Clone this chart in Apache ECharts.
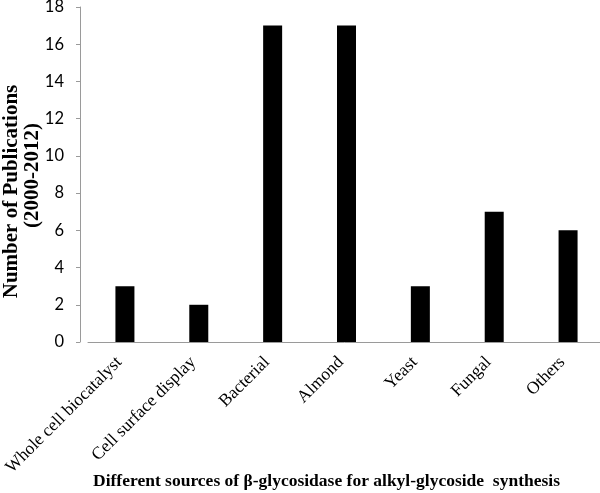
<!DOCTYPE html>
<html lang="en">
<head>
    <meta charset="UTF-8">
    <title>Sources of beta-glycosidase</title>
    <script src="https://cdn.jsdelivr.net/npm/echarts@6/dist/echarts.min.js"></script>
    <style>
        html, body { margin: 0; padding: 0; background: #fff; }
        #main { width: 600px; height: 493px; }
    </style>
</head>
<body>
<div id="main"></div>
<script type="text/javascript">
    var categories = ['Whole cell biocatalyst', 'Cell surface display', 'Bacterial', 'Almond', 'Yeast', 'Fungal', 'Others'];
    var publications = [3, 2, 17, 17, 3, 7, 6];

    var serif = '"Liberation Serif", "Times New Roman", serif';
    var sans = 'Lato, "Liberation Sans", sans-serif';

    var myChart = echarts.init(document.getElementById('main'));
    myChart.setOption({
        animation: false,
        grid: {
            left: 88,
            right: -5,
            top: 7,
            bottom: 151,
            outerBoundsMode: 'none',
            containLabel: false
        },
        xAxis: {
            type: 'category',
            data: categories,
            name: 'Different sources of \u03b2-glycosidase for alkyl-glycoside  synthesis',
            nameLocation: 'middle',
            nameGap: 130,
            nameMoveOverlap: false,
            nameTextStyle: {
                fontFamily: serif,
                fontWeight: 'bold',
                fontSize: 17.5,
                color: '#000',
                padding: [0, 40, 0, 0]
            },
            axisLine: { lineStyle: { color: '#9a9a9a', width: 1 } },
            axisTick: { show: false },
            axisLabel: {
                rotate: 45,
                interval: 0,
                margin: 12,
                padding: [0, 8, 0, 0],
                fontFamily: serif,
                fontSize: 17.5,
                color: '#000'
            }
        },
        yAxis: {
            type: 'value',
            min: 0,
            max: 18,
            interval: 2,
            offset: 8,
            name: '{a|Number of Publications}\n{b|(2000-2012)}',
            nameLocation: 'middle',
            nameGap: 37,
            nameMoveOverlap: false,
            nameTextStyle: {
                color: '#000',
                padding: [0, 34, 0, 0],
                rich: {
                    a: {
                        fontFamily: serif,
                        fontWeight: 'bold',
                        fontSize: 21,
                        lineHeight: 21,
                        color: '#000'
                    },
                    b: {
                        fontFamily: serif,
                        fontWeight: 'bold',
                        fontSize: 21,
                        lineHeight: 21,
                        color: '#000',
                        padding: [0, 0, 0, 32]
                    }
                }
            },
            axisLine: { show: true, lineStyle: { color: '#9a9a9a', width: 1 } },
            axisTick: { show: true, length: 4, lineStyle: { color: '#9a9a9a' } },
            splitLine: { show: false },
            axisLabel: {
                margin: 16,
                fontFamily: sans,
                fontSize: 16.5,
                color: '#000'
            }
        },
        series: [
            {
                type: 'bar',
                data: publications,
                barWidth: 19,
                itemStyle: { color: '#000' }
            }
        ]
    });
</script>
</body>
</html>
